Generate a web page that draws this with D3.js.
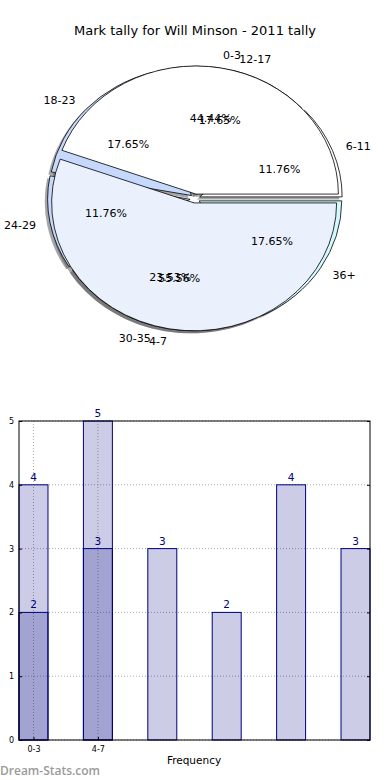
<!DOCTYPE html>
<html>
<head>
<meta charset="utf-8">
<script src="https://cdn.jsdelivr.net/npm/d3@7"></script>
<style>
  body { margin: 0; background: #fff; }
  text { font-family: "DejaVu Sans", sans-serif; }
</style>
</head>
<body>
<div id="chart"></div>
<script>
var w = 390, h = 780;

// pie data (two pies drawn on top of each other, as in the source)
var pieLabels1 = ["0-3", "4-7"],
    pieValues1 = [4, 5],
    pieColors1 = ["#ffffff", "#eaf1fd"];
var pieLabels2 = ["6-11", "12-17", "18-23", "24-29", "30-35", "36+"],
    pieValues2 = [2, 3, 3, 2, 4, 3],
    pieColors2 = ["#ffffff", "#eaf1fd", "#c6d9fd", "#c6d9fd", "#eaf1fd", "#d2fafd"];

// bar data
var barTickLabels = ["0-3", "4-7"],
    barValuesLight = [4, 5, 3, 2, 4, 3],
    barValuesDark = [2, 3],
    yTicks = [0, 1, 2, 3, 4, 5];

var titleText = "Mark tally for Will Minson - 2011 tally";

var svg = d3.select("#chart").append("svg")
    .attr("width", w)
    .attr("height", h);

svg.append("text")
    .attr("x", 195).attr("y", 35)
    .attr("text-anchor", "middle")
    .style("font-size", "13px")
    .text(titleText);

// ---- pie ----
var cx = 195, cy = 198.5, rx = 142.5, ry = 128,
    explode = 0.035, shadowDx = -0.02, shadowDy = 0.02;

// matplotlib style: start at 3 o'clock, counter-clockwise
var pie = d3.pie().sort(null).startAngle(Math.PI / 2).endAngle(Math.PI / 2 - 2 * Math.PI);
var arc = d3.arc().innerRadius(0).outerRadius(1);

function slices(labels, values, colors) {
  var total = d3.sum(values);
  return pie(values).map(function(d, i) {
    var mid = (d.startAngle + d.endAngle) / 2;
    return {arc: d, label: labels[i], color: colors[i], pct: d.value / total * 100,
            ox: explode * Math.sin(mid), oy: -explode * Math.cos(mid),
            ux: Math.sin(mid), uy: -Math.cos(mid)};
  });
}
var s1 = slices(pieLabels1, pieValues1, pieColors1),
    s2 = slices(pieLabels2, pieValues2, pieColors2);

var pieg = svg.append("g")
    .attr("transform", "translate(" + cx + "," + cy + ") scale(" + rx + "," + ry + ")");

// shadows go under every wedge
pieg.selectAll(".shadow")
  .data(s2.concat(s1))
  .enter().append("path")
    .attr("class", "shadow")
    .attr("d", function(d) { return arc(d.arc); })
    .attr("transform", function(d) { return "translate(" + (d.ox + shadowDx) + "," + (d.oy + shadowDy) + ")"; })
    .attr("fill", "#4d4d4d")
    .attr("fill-opacity", 0.5);

[s2, s1].forEach(function(s, k) {
  pieg.selectAll(".wedge" + k)
    .data(s)
    .enter().append("path")
      .attr("class", "wedge" + k)
      .attr("d", function(d) { return arc(d.arc); })
      .attr("transform", function(d) { return "translate(" + d.ox + "," + d.oy + ")"; })
      .attr("fill", function(d) { return d.color; })
      .attr("stroke", "#000")
      .attr("stroke-width", 0.8)
      .attr("vector-effect", "non-scaling-stroke");
});

var pctFormat = d3.format(".2f");
var labelg = svg.append("g");
[s2, s1].forEach(function(s, k) {
  labelg.selectAll(".lab" + k)
    .data(s)
    .enter().append("text")
      .attr("class", "lab" + k)
      .attr("x", function(d) { return cx + (1.1 * d.ux + d.ox) * rx; })
      .attr("y", function(d) { return cy + (1.1 * d.uy + d.oy) * ry; })
      .attr("dy", "0.35em")
      .attr("text-anchor", function(d) { return d.ux > 0 ? "start" : "end"; })
      .style("font-size", "11px")
      .text(function(d) { return d.label; });
  labelg.selectAll(".pct" + k)
    .data(s)
    .enter().append("text")
      .attr("class", "pct" + k)
      .attr("x", function(d) { return cx + (0.6 * d.ux + d.ox) * rx; })
      .attr("y", function(d) { return cy + (0.6 * d.uy + d.oy) * ry; })
      .attr("dy", "0.35em")
      .attr("text-anchor", "middle")
      .style("font-size", "11px")
      .text(function(d) { return pctFormat(d.pct) + "%"; });
});

// ---- bars ----
var margin = {top: 421, left: 19},
    bw = 351, bh = 319, barWidth = 0.45;

var barx = d3.scaleLinear().domain([0, barValuesLight.length - 1 + barWidth]).range([0, bw]),
    bary = d3.scaleLinear().domain([0, 5]).range([bh, 0]);

var barg = svg.append("g")
    .attr("transform", "translate(" + margin.left + "," + margin.top + ")");

// grid
barg.selectAll(".hgrid")
  .data(yTicks)
  .enter().append("line")
    .attr("x1", 0).attr("x2", bw)
    .attr("y1", function(d) { return bary(d); })
    .attr("y2", function(d) { return bary(d); })
    .attr("stroke", "#aaa").attr("stroke-width", 1)
    .attr("stroke-dasharray", "1,2");
barg.selectAll(".vgrid")
  .data(barTickLabels)
  .enter().append("line")
    .attr("x1", function(d, i) { return barx(i + barWidth / 2); })
    .attr("x2", function(d, i) { return barx(i + barWidth / 2); })
    .attr("y1", 0).attr("y2", bh)
    .attr("stroke", "#aaa").attr("stroke-width", 1)
    .attr("stroke-dasharray", "1,2");

function drawBars(values, cls) {
  barg.selectAll("." + cls)
    .data(values)
    .enter().append("rect")
      .attr("class", cls)
      .attr("x", function(d, i) { return barx(i); })
      .attr("y", function(d) { return bary(d); })
      .attr("width", barx(barWidth) - barx(0))
      .attr("height", function(d) { return bh - bary(d); })
      .attr("fill", "navy").attr("fill-opacity", 0.2)
      .attr("stroke", "navy").attr("stroke-width", 1);
  barg.selectAll("." + cls + "-lab")
    .data(values)
    .enter().append("text")
      .attr("class", cls + "-lab")
      .attr("x", function(d, i) { return barx(i + barWidth / 2); })
      .attr("y", function(d) { return bary(d) - 4; })
      .attr("text-anchor", "middle")
      .attr("fill", "navy")
      .style("font-size", "10.5px")
      .text(function(d) { return d; });
}
drawBars(barValuesLight, "barl");
drawBars(barValuesDark, "bard");

// frame
barg.append("rect")
    .attr("width", bw).attr("height", bh)
    .attr("fill", "none").attr("stroke", "#000").attr("stroke-width", 1);

// y axis (ticks inside on both sides)
var yAxis = barg.append("g")
    .call(d3.axisLeft(bary).tickValues(yTicks).tickSize(-3).tickPadding(5).tickFormat(d3.format("d")));
yAxis.select(".domain").remove();
yAxis.selectAll("text").style("font-size", "8px").style("font-family", "DejaVu Sans, sans-serif");
var yAxisR = barg.append("g")
    .attr("transform", "translate(" + bw + ",0)")
    .call(d3.axisRight(bary).tickValues(yTicks).tickSize(-3).tickFormat(""));
yAxisR.select(".domain").remove();

// x axis
var xAxis = barg.append("g")
    .attr("transform", "translate(0," + bh + ")")
    .call(d3.axisBottom(barx)
      .tickValues(barTickLabels.map(function(d, i) { return i + barWidth / 2; }))
      .tickFormat(function(d, i) { return barTickLabels[i]; })
      .tickSize(-3).tickPadding(6));
xAxis.select(".domain").remove();
xAxis.selectAll("text").style("font-size", "8px").style("font-family", "DejaVu Sans, sans-serif");

svg.append("text")
    .attr("x", 194).attr("y", 764)
    .attr("text-anchor", "middle")
    .style("font-size", "10.5px")
    .text("Frequency");

svg.append("text")
    .attr("x", 0).attr("y", 775)
    .attr("fill", "#9a9a9a")
    .style("font-family", "'Open Sans', sans-serif")
    .style("font-size", "12px")
    .style("font-weight", "600")
    .text("Dream-Stats.com");
</script>
</body>
</html>
